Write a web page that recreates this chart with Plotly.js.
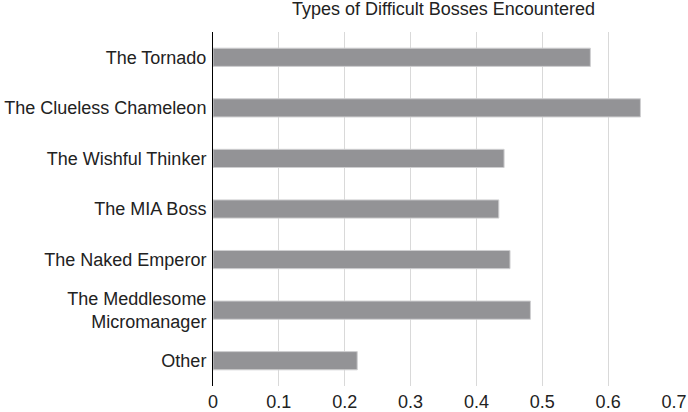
<!DOCTYPE html>
<html>
<head>
<meta charset="utf-8">
<script src="https://cdn.plot.ly/plotly-3.0.1.min.js"></script>
<style>html,body{margin:0;padding:0;background:#fff}#chart{width:688px;height:412px}</style>
</head>
<body>
<div id="chart"></div>
<script>
const categories = ["The Tornado", "The Clueless Chameleon", "The Wishful Thinker", "The MIA Boss", "The Naked Emperor", "The Meddlesome<br>Micromanager", "Other"];
const values = [0.573, 0.649, 0.442, 0.434, 0.451, 0.482, 0.219];
const tickVals = [0, 0.1, 0.2, 0.3, 0.4, 0.5, 0.6, 0.7];
const tickText = ["0", "0.1", "0.2", "0.3", "0.4", "0.5", "0.6", "0.7"];
const chartTitle = "Types of Difficult Bosses Encountered";

const trace = {
  type: 'bar',
  orientation: 'h',
  y: categories,
  x: values,
  width: 0.36,
  marker: {color: '#939396', line: {color: '#cfcfd1', width: 1}},
  hoverinfo: 'none'
};

const layout = {
  width: 688, height: 412,
  margin: {l: 213, r: 14, t: 32, b: 26, pad: 0},
  paper_bgcolor: '#fff', plot_bgcolor: '#fff',
  font: {family: 'Liberation Sans, Arial, sans-serif', size: 18, color: '#222'},
  title: {text: chartTitle, x: 0.5, xref: 'paper', xanchor: 'center', y: 0.994, yref: 'container', yanchor: 'top', pad: {t: 0}, font: {size: 18, color: '#222'}},
  showlegend: false,
  xaxis: {
    range: [0, 0.7], tickvals: tickVals, ticktext: tickText,
    showgrid: true, gridcolor: '#d9d9d9', gridwidth: 1,
    zeroline: false, showline: false, ticks: '', ticklabelstandoff: 3, fixedrange: true
  },
  yaxis: {
    autorange: 'reversed', showline: true, linecolor: '#000', linewidth: 1,
    ticks: 'outside', ticklen: 2, tickcolor: 'rgba(0,0,0,0)', showgrid: false, zeroline: false
  },
  bargap: 0.64
};

Plotly.newPlot('chart', [trace], layout, {displayModeBar: false, staticPlot: true});
</script>
</body>
</html>
